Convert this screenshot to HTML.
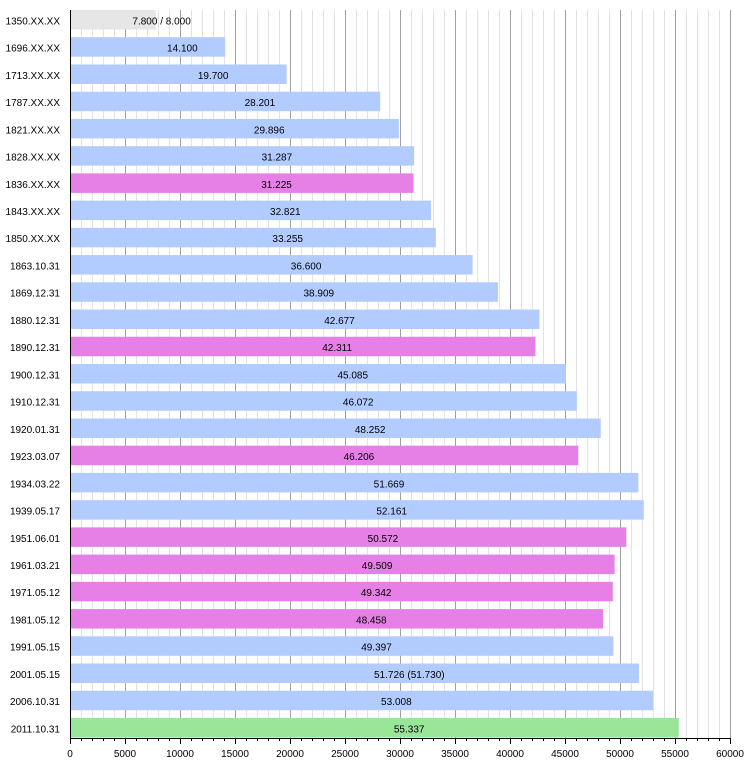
<!DOCTYPE html>
<html><head><meta charset="utf-8"><style>
html,body{margin:0;padding:0;background:#fff;}
svg{display:block;font-family:"Liberation Sans",Arial,sans-serif;font-size:10px;}
</style></head><body>
<svg width="750" height="766" viewBox="0 0 750 766" xmlns="http://www.w3.org/2000/svg">
<defs>
<pattern id="mg" x="70" y="0" width="11" height="766" patternUnits="userSpaceOnUse">
<rect x="0" y="0" width="1" height="766" fill="#e2e2e2"/>
</pattern>
<pattern id="mt" x="70" y="0" width="11" height="766" patternUnits="userSpaceOnUse">
<rect x="0" y="0" width="1" height="766" fill="#000"/>
</pattern>
</defs>
<!-- minor gridlines -->
<rect x="81" y="10" width="650" height="728" fill="url(#mg)"/>
<!-- major gridlines -->
<g fill="#a0a0a0">
<rect x="125" y="10" width="1" height="728"/>
<rect x="180" y="10" width="1" height="728"/>
<rect x="235" y="10" width="1" height="728"/>
<rect x="290" y="10" width="1" height="728"/>
<rect x="345" y="10" width="1" height="728"/>
<rect x="400" y="10" width="1" height="728"/>
<rect x="455" y="10" width="1" height="728"/>
<rect x="510" y="10" width="1" height="728"/>
<rect x="565" y="10" width="1" height="728"/>
<rect x="620" y="10" width="1" height="728"/>
<rect x="675" y="10" width="1" height="728"/>
<rect x="730" y="10" width="1" height="728"/>
</g>
<!-- bars -->
<g>
<rect x="70" y="10" width="85.8" height="19.5" fill="#e6e6e6"/>
<rect x="70" y="37.23" width="155.1" height="19.5" fill="#b3ccff"/>
<rect x="70" y="64.46" width="216.7" height="19.5" fill="#b3ccff"/>
<rect x="70" y="91.69" width="310.21" height="19.5" fill="#b3ccff"/>
<rect x="70" y="118.92" width="328.86" height="19.5" fill="#b3ccff"/>
<rect x="70" y="146.15" width="344.16" height="19.5" fill="#b3ccff"/>
<rect x="70" y="173.38" width="343.48" height="19.5" fill="#e680e6"/>
<rect x="70" y="200.61" width="361.03" height="19.5" fill="#b3ccff"/>
<rect x="70" y="227.84" width="365.81" height="19.5" fill="#b3ccff"/>
<rect x="70" y="255.07" width="402.6" height="19.5" fill="#b3ccff"/>
<rect x="70" y="282.3" width="428.0" height="19.5" fill="#b3ccff"/>
<rect x="70" y="309.53" width="469.45" height="19.5" fill="#b3ccff"/>
<rect x="70" y="336.76" width="465.42" height="19.5" fill="#e680e6"/>
<rect x="70" y="363.99" width="495.94" height="19.5" fill="#b3ccff"/>
<rect x="70" y="391.22" width="506.79" height="19.5" fill="#b3ccff"/>
<rect x="70" y="418.45" width="530.77" height="19.5" fill="#b3ccff"/>
<rect x="70" y="445.68" width="508.27" height="19.5" fill="#e680e6"/>
<rect x="70" y="472.91" width="568.36" height="19.5" fill="#b3ccff"/>
<rect x="70" y="500.14" width="573.77" height="19.5" fill="#b3ccff"/>
<rect x="70" y="527.37" width="556.29" height="19.5" fill="#e680e6"/>
<rect x="70" y="554.6" width="544.6" height="19.5" fill="#e680e6"/>
<rect x="70" y="581.83" width="542.76" height="19.5" fill="#e680e6"/>
<rect x="70" y="609.06" width="533.04" height="19.5" fill="#e680e6"/>
<rect x="70" y="636.29" width="543.37" height="19.5" fill="#b3ccff"/>
<rect x="70" y="663.52" width="568.99" height="19.5" fill="#b3ccff"/>
<rect x="70" y="690.75" width="583.09" height="19.5" fill="#b3ccff"/>
<rect x="70" y="717.98" width="608.71" height="19.5" fill="#99e699"/>
</g>
<!-- bar value labels -->
<g fill="#000">
<text x="132.4" y="24.4">7.800 / 8.000</text>
<text x="167.05" y="51.63">14.100</text>
<text x="197.85" y="78.86">19.700</text>
<text x="244.6" y="106.09">28.201</text>
<text x="253.93" y="133.32">29.896</text>
<text x="261.58" y="160.55">31.287</text>
<text x="261.24" y="187.78">31.225</text>
<text x="270.02" y="215.01">32.821</text>
<text x="272.4" y="242.24">33.255</text>
<text x="290.8" y="269.47">36.600</text>
<text x="303.5" y="296.7">38.909</text>
<text x="324.22" y="323.93">42.677</text>
<text x="322.21" y="351.16">42.311</text>
<text x="337.47" y="378.39">45.085</text>
<text x="342.9" y="405.62">46.072</text>
<text x="354.89" y="432.85">48.252</text>
<text x="343.64" y="460.08">46.206</text>
<text x="373.68" y="487.31">51.669</text>
<text x="376.39" y="514.54">52.161</text>
<text x="367.65" y="541.77">50.572</text>
<text x="361.8" y="569.0">49.509</text>
<text x="360.88" y="596.23">49.342</text>
<text x="356.02" y="623.46">48.458</text>
<text x="361.19" y="650.69">49.397</text>
<text x="374" y="677.92">51.726 (51.730)</text>
<text x="381.05" y="705.15">53.008</text>
<text x="393.86" y="732.38">55.337</text>
</g>
<!-- row labels -->
<g fill="#000" text-anchor="end">
<text x="60" y="24.4">1350.XX.XX</text>
<text x="60" y="51.63">1696.XX.XX</text>
<text x="60" y="78.86">1713.XX.XX</text>
<text x="60" y="106.09">1787.XX.XX</text>
<text x="60" y="133.32">1821.XX.XX</text>
<text x="60" y="160.55">1828.XX.XX</text>
<text x="60" y="187.78">1836.XX.XX</text>
<text x="60" y="215.01">1843.XX.XX</text>
<text x="60" y="242.24">1850.XX.XX</text>
<text x="60" y="269.47">1863.10.31</text>
<text x="60" y="296.7">1869.12.31</text>
<text x="60" y="323.93">1880.12.31</text>
<text x="60" y="351.16">1890.12.31</text>
<text x="60" y="378.39">1900.12.31</text>
<text x="60" y="405.62">1910.12.31</text>
<text x="60" y="432.85">1920.01.31</text>
<text x="60" y="460.08">1923.03.07</text>
<text x="60" y="487.31">1934.03.22</text>
<text x="60" y="514.54">1939.05.17</text>
<text x="60" y="541.77">1951.06.01</text>
<text x="60" y="569.0">1961.03.21</text>
<text x="60" y="596.23">1971.05.12</text>
<text x="60" y="623.46">1981.05.12</text>
<text x="60" y="650.69">1991.05.15</text>
<text x="60" y="677.92">2001.05.15</text>
<text x="60" y="705.15">2006.10.31</text>
<text x="60" y="732.38">2011.10.31</text>
</g>
<!-- axes -->
<rect x="70" y="10" width="1" height="729" fill="#000"/>
<rect x="70" y="738" width="661" height="1" fill="#000"/>
<!-- minor ticks -->
<rect x="70" y="738" width="661" height="3" fill="url(#mt)"/>
<!-- major ticks -->
<g fill="#000">
<rect x="70" y="738" width="1" height="6"/>
<rect x="125" y="738" width="1" height="6"/>
<rect x="180" y="738" width="1" height="6"/>
<rect x="235" y="738" width="1" height="6"/>
<rect x="290" y="738" width="1" height="6"/>
<rect x="345" y="738" width="1" height="6"/>
<rect x="400" y="738" width="1" height="6"/>
<rect x="455" y="738" width="1" height="6"/>
<rect x="510" y="738" width="1" height="6"/>
<rect x="565" y="738" width="1" height="6"/>
<rect x="620" y="738" width="1" height="6"/>
<rect x="675" y="738" width="1" height="6"/>
<rect x="730" y="738" width="1" height="6"/>
</g>
<g fill="#000" text-anchor="middle">
<text x="70" y="757">0</text>
<text x="125" y="757">5000</text>
<text x="180" y="757">10000</text>
<text x="235" y="757">15000</text>
<text x="290" y="757">20000</text>
<text x="345" y="757">25000</text>
<text x="400" y="757">30000</text>
<text x="455" y="757">35000</text>
<text x="510" y="757">40000</text>
<text x="565" y="757">45000</text>
<text x="620" y="757">50000</text>
<text x="675" y="757">55000</text>
<text x="730" y="757">60000</text>
</g>
</svg>
</body></html>
